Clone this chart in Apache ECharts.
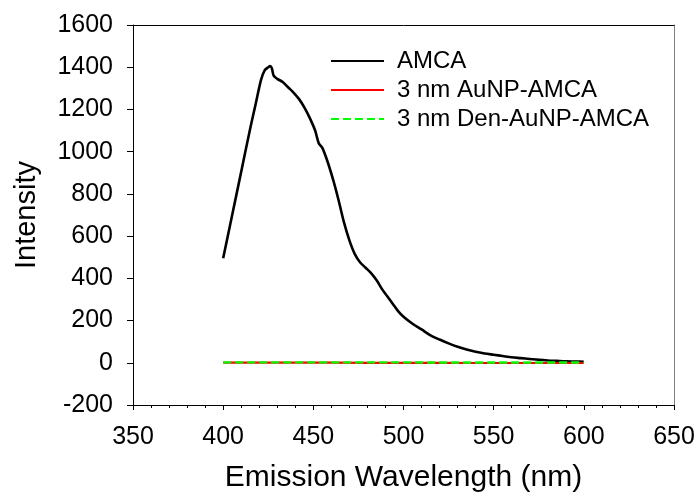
<!DOCTYPE html>
<html>
<head>
<meta charset="utf-8">
<script src="https://cdn.jsdelivr.net/npm/echarts@6/dist/echarts.min.js"></script>
<style>html,body{margin:0;padding:0;background:#fff}#c{width:699px;height:499px}</style>
</head>
<body>
<div id="c"></div>
<script>
var amcaX = [400,405,410,415,418,421,423,425,426,427,428,430,433,436,439,442,445,448,451,453,455,458,461,464,467,470,473,476,479,482,485,488,491,494,497,500,505,510,515,520,525,530,535,540,545,550,555,560,565,570,575,580,585,590,595,600];
var amcaY = [495,700,905,1110,1225,1340,1385,1400,1405,1395,1360,1345,1330,1305,1280,1250,1210,1160,1100,1040,1018,950,866,770,665,580,515,475,450,425,392,350,315,280,245,218,185,158,130,110,92,76,63,52,44,38,32,26,22,18,14,11,9,7,6,5];
var auX = [400,420,440,460,480,500,520,540,560,580,600];
var auY = [1,1,1,1,0,0,0,-1,-1,-1,-1];
var denX = [400,420,440,460,480,500,520,540,560,580,600];
var denY = [2,2,2,2,2,2,1,1,1,1,1];
var xTicks = [350,400,450,500,550,600,650];
var yTicks = [-200,0,200,400,600,800,1000,1200,1400,1600];

function pairs(xs, ys){ return xs.map(function(x,i){ return [x, ys[i]]; }); }
var FONT = "'Liberation Sans', Arial, sans-serif";
var chart = echarts.init(document.getElementById('c'));
chart.setOption({
  animation: false,
  backgroundColor: '#fff',
  textStyle: {fontFamily: FONT, color: '#000'},
  grid: {left: 133, top: 25, right: 25, bottom: 94, containLabel: false},
  legend: {
    orient: 'vertical', left: 325, top: 44, itemWidth: 53, itemHeight: 14, itemGap: 5,
    itemStyle: {opacity: 0},
    textStyle: {fontFamily: FONT, fontSize: 24, color: '#000', lineHeight: 24, padding: [0,0,0,8]},
    data: ['AMCA', '3 nm AuNP-AMCA', '3 nm Den-AuNP-AMCA']
  },
  xAxis: [{
    type: 'value', min: xTicks[0], max: xTicks[xTicks.length-1], interval: 50, position: 'bottom',
    name: 'Emission Wavelength (nm)', nameLocation: 'middle', nameGap: 58,
    nameTextStyle: {fontFamily: FONT, fontSize: 30, color: '#000'},
    axisLine: {onZero: false, lineStyle: {color: '#000', width: 1}},
    axisTick: {inside: false, length: 5, lineStyle: {color: '#000'}},
    minorTick: {show: true, splitNumber: 5, length: 3, lineStyle: {color: '#000'}},
    axisLabel: {fontFamily: FONT, fontSize: 25, color: '#000', margin: 20, formatter: function(v){ return String(v); }},
    splitLine: {show: false}
  }, {
    type: 'value', min: xTicks[0], max: xTicks[xTicks.length-1], interval: 50, position: 'top',
    axisLine: {onZero: false, lineStyle: {color: '#000', width: 1}},
    axisTick: {show: false}, axisLabel: {show: false}, splitLine: {show: false}
  }],
  yAxis: [{
    type: 'value', min: yTicks[0], max: yTicks[yTicks.length-1], interval: 200, position: 'left',
    name: 'Intensity', nameLocation: 'middle', nameGap: 92,
    nameTextStyle: {fontFamily: FONT, fontSize: 29, color: '#000'},
    axisLine: {show: true, onZero: false, lineStyle: {color: '#000', width: 1}},
    axisTick: {show: true, inside: false, length: 6, lineStyle: {color: '#000'}},
    axisLabel: {fontFamily: FONT, fontSize: 25, color: '#000', margin: 20, formatter: function(v){ return String(v); }},
    splitLine: {show: false}
  }, {
    type: 'value', min: yTicks[0], max: yTicks[yTicks.length-1], interval: 200, position: 'right',
    axisLine: {show: true, onZero: false, lineStyle: {color: '#808080', width: 1}},
    axisTick: {show: false}, axisLabel: {show: false}, splitLine: {show: false}
  }],
  series: [{
    name: 'AMCA', type: 'line', symbol: 'none', smooth: 0.3,
    lineStyle: {color: '#000', width: 2.6}, itemStyle: {color: '#000'},
    data: pairs(amcaX, amcaY)
  }, {
    name: '3 nm AuNP-AMCA', type: 'line', symbol: 'none',
    lineStyle: {color: '#ff0000', width: 2.2}, itemStyle: {color: '#ff0000'},
    data: pairs(auX, auY)
  }, {
    name: '3 nm Den-AuNP-AMCA', type: 'line', symbol: 'none',
    lineStyle: {color: '#00ff00', width: 2.4, type: [8,4]}, itemStyle: {color: '#00ff00'},
    data: pairs(denX, denY)
  }]
});
</script>
</body>
</html>
